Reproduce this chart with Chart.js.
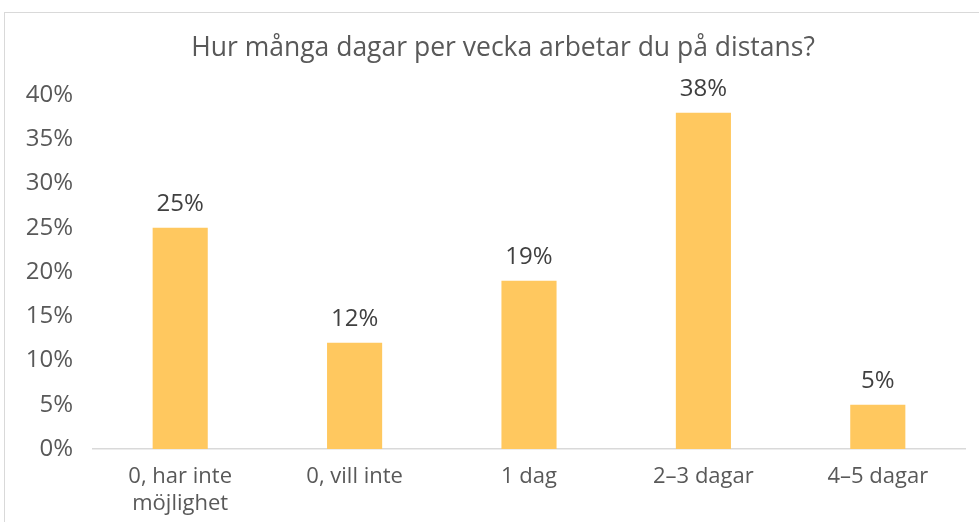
<!DOCTYPE html>
<html>
<head>
<meta charset="utf-8">
<script src="https://cdn.jsdelivr.net/npm/chart.js@4/dist/chart.umd.min.js"></script>
<style>
body{margin:0;background:#fff}
canvas{display:block}
</style>
</head>
<body>
<canvas id="chart" width="979" height="522"></canvas>
<script>
const chartTitle='Hur många dagar per vecka arbetar du på distans?'
const categories=[['0, har inte','möjlighet'],'0, vill inte','1 dag','2–3 dagar','4–5 dagar']
const shares=[25,12,19,38,5]
const yTicks=[0,5,10,15,20,25,30,35,40]

const fontName='"Open Sans", sans-serif'

// frame + title + value labels
const extras={
  id:'extras',
  beforeDraw(chart){
    const c=chart.ctx
    c.save()
    c.strokeStyle='#d9d9d9'
    c.lineWidth=1
    c.strokeRect(4.5,12.5,1100,700)
    c.restore()
  },
  afterDatasetsDraw(chart){
    const c=chart.ctx
    c.save()
    c.fillStyle='#595959'
    c.font='26.5px '+fontName
    c.textAlign='center'
    c.textBaseline='middle'
    c.fillText(chartTitle,503,48)
    c.fillStyle='#404040'
    c.font='24px '+fontName
    c.textBaseline='alphabetic'
    chart.getDatasetMeta(0).data.forEach((bar,i)=>{
      c.fillText(shares[i]+'%',bar.x,bar.y-17)
    })
    c.restore()
  }
}

new Chart(document.getElementById('chart').getContext('2d'),{
  type:'bar',
  data:{
    labels:categories,
    datasets:[{
      data:shares,
      backgroundColor:'#FFC85F',
      categoryPercentage:1,
      barPercentage:0.316
    }]
  },
  options:{
    responsive:false,
    animation:false,
    layout:{padding:{top:95,right:14,left:0,bottom:0}},
    plugins:{legend:{display:false},tooltip:{enabled:false}},
    scales:{
      x:{
        grid:{display:false,drawTicks:false},
        border:{display:true,color:'#d9d9d9',width:1.5},
        ticks:{color:'#595959',font:{family:fontName,size:22},padding:15,maxRotation:0},
        afterFit(s){s.height=73}
      },
      y:{
        min:0,max:40,
        grid:{display:false,drawTicks:false},
        border:{display:false},
        afterBuildTicks(s){s.ticks=yTicks.map(v=>({value:v}))},
        ticks:{color:'#595959',font:{family:fontName,size:24},padding:20,
          callback:v=>v+'%'},
        afterFit(s){s.width=93}
      }
    }
  },
  plugins:[extras]
})
</script>
</body>
</html>
